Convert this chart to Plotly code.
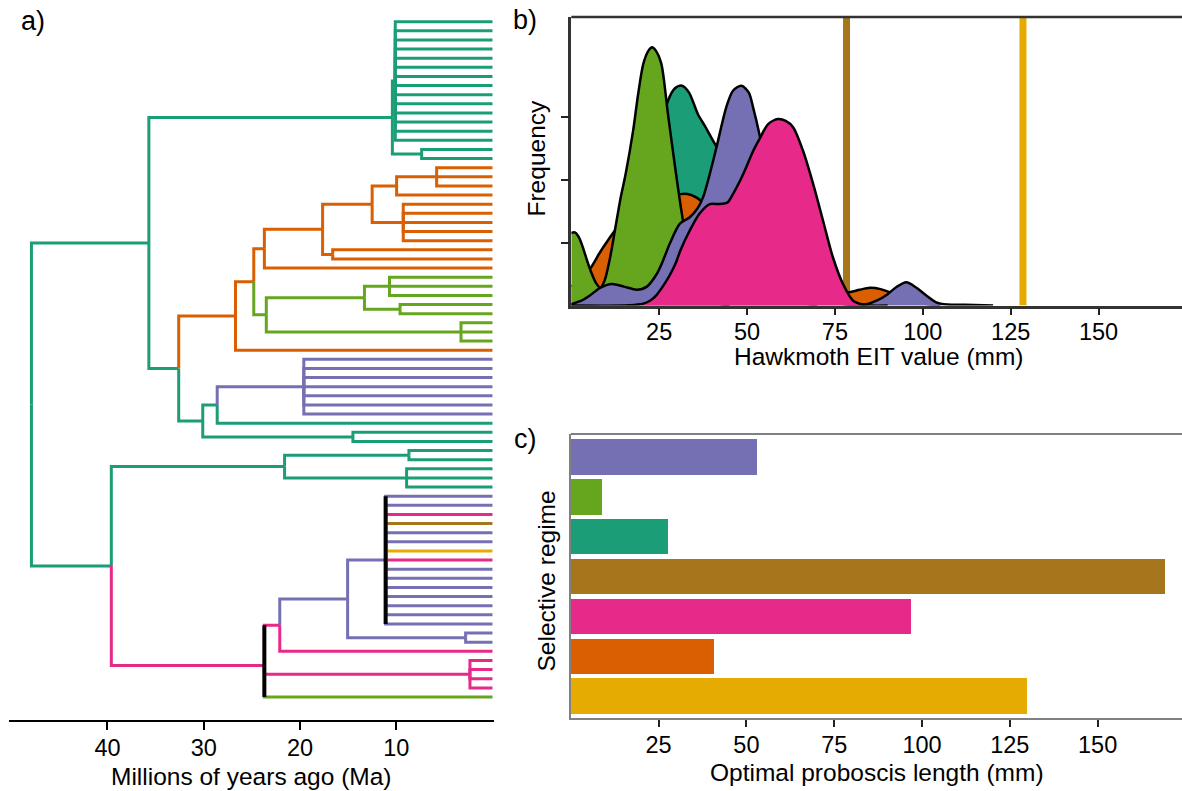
import plotly.graph_objects as go

W, H = 1182, 791
FONT = "Liberation Sans, Arial, sans-serif"

# Dark2 colours used for selective regimes
COL = {"T": "#1B9E77", "O": "#D95F02", "P": "#7570B3", "K": "#E7298A",
       "G": "#66A61E", "Y": "#E6AB02", "B": "#A6761D"}

# ---------------- panel a: phylogeny (node ages in Ma, edge regime colour) ----------------
def N(age, col, kids, black_vertical=False):
    return {"age": age, "col": col, "kids": kids, "bv": black_vertical}

TREE = N(47.9, "T", [
    N(35.7, "T", [
        N(10.4, "T", [N(10.1, "T", ["T"] * 14), N(7.36, "T", ["T", "T"])]),
        N(32.6, "T", [
            N(26.7, "O", [
                N(24.8, "O", [
                    N(23.7, "O", [
                        N(17.65, "O", [
                            N(12.5, "O", [
                                N(9.96, "O", [N(5.8, "O", ["O"] * 3), "O"]),
                                N(9.27, "O", ["O"] * 5)]),
                            N(16.6, "O", ["O", "O"])]),
                        "O"]),
                    N(23.5, "G", [
                        N(13.3, "G", [N(10.7, "G", ["G"] * 3), N(9.6, "G", ["G"] * 2)]),
                        N(3.27, "G", ["G"] * 3)])]),
                "O"]),
            N(30.1, "T", [
                N(28.6, "T", [N(19.6, "P", ["P"] * 7), "T"]),
                N(14.5, "T", ["T", "T"])])])]),
    N(39.6, "T", [
        N(21.6, "T", [N(8.68, "T", ["T"] * 2), N(8.92, "T", ["T"] * 3)]),
        N(23.7, "K", [
            N(22.1, "K", [
                N(15.05, "P", [
                    N(11.1, "P", ["P", "P", "K", "B", "P", "P", "Y", "K",
                                  "P", "P", "P", "P", "P", "P", "P"], True),
                    N(2.79, "P", ["P", "P"])]),
                "K"]),
            N(2.34, "K", ["K"] * 4),
            "G"], True)])])

AGE_TICKS = [40, 30, 20, 10]

# ---------------- panel b: densities of hawkmoth EIT values ----------------
teal_x = [0, 10, 15, 20, 24, 27.5, 29.5, 31.5, 33.5, 36, 38, 40, 42, 45, 48, 52, 56, 60, 65, 70]
teal_y = [0, 0.05, 0.3, 1.2, 2.4, 3.25, 3.45, 3.49, 3.38, 3.04, 2.85, 2.65, 2.45, 2.1, 1.6, 1.0, 0.5, 0.2, 0.05, 0]

orange_x = [0, 3, 5.3, 8, 10, 12.4, 15, 18, 22, 26, 30, 33, 36, 38, 41, 45, 50, 55, 60, 65,
            70, 75, 79, 82, 85, 88, 91, 95, 100, 105]
orange_y = [0.3, 0.45, 0.58, 0.83, 1.0, 1.19, 1.35, 1.45, 1.5, 1.6, 1.75, 1.77, 1.7, 1.6, 1.45,
            1.3, 1.0, 0.75, 0.55, 0.4, 0.3, 0.22, 0.21, 0.25, 0.28, 0.26, 0.2, 0.1, 0.03, 0]

green_x = [0, 1, 2, 3, 4, 5, 6, 7, 8.3, 9.5, 11, 12.4, 14, 15.5, 17.6, 19, 20.5, 22, 23, 24,
           25.6, 27.5, 29.4, 31.3, 33, 35, 37, 40, 45]
green_y = [1.15, 1.16, 1.1, 0.97, 0.8, 0.63, 0.48, 0.36, 0.28, 0.4, 0.75, 1.19, 1.7, 2.1, 2.78,
           3.35, 3.84, 4.05, 4.1, 4.05, 3.84, 3.04, 2.25, 1.51, 0.95, 0.5, 0.22, 0.06, 0]

purple_x = [0, 3, 5.3, 8.2, 11.5, 15, 18.6, 21.5, 24.3, 26, 28, 30.9, 33.7, 36, 37.5, 39.4, 41.3,
            44.1, 46, 48.4, 50.5, 51.7, 53.6, 56, 60, 65, 70, 75, 80, 84, 87, 90, 92.4, 95.3,
            98, 101, 103.8, 107, 112, 120]
purple_y = [0.02, 0.08, 0.16, 0.28, 0.34, 0.3, 0.25, 0.3, 0.5, 0.7, 0.98, 1.30, 1.40, 1.55, 1.72,
            2.09, 2.51, 3.15, 3.41, 3.49, 3.38, 3.15, 2.70, 2.0, 1.2, 0.6, 0.25, 0.06, 0.01, 0.02,
            0.08, 0.18, 0.29, 0.37, 0.29, 0.16, 0.05, 0.015, 0.01, 0]

pink_x = [0, 15, 18, 20.5, 22.5, 24.3, 26, 28, 29.9, 31, 33.7, 36.5, 39.4, 42.2, 44.5, 46, 48,
          49.8, 51.7, 53.6, 56, 58.8, 61, 63.1, 65.9, 68.8, 71.6, 74.4, 77.3, 80.1, 82.5, 85, 90]
pink_y = [0, 0, 0.01, 0.03, 0.08, 0.17, 0.3, 0.48, 0.7, 0.87, 1.19, 1.46, 1.61, 1.61, 1.64, 1.77,
          1.98, 2.2, 2.45, 2.65, 2.88, 2.96, 2.93, 2.83, 2.46, 1.93, 1.35, 0.77, 0.34, 0.08, 0.02, 0, 0]

brown_spike_x = 78.3
yellow_spike_x = 128.5
EIT_TICKS = [25, 50, 75, 100, 125, 150]
FREQ_TICKS = [1, 2, 3]

# ---------------- panel c: optimal proboscis length per regime ----------------
REGIMES = ["P", "G", "T", "B", "K", "O", "Y"]
OPTIMA = [53.0, 8.9, 27.7, 169.0, 96.8, 40.7, 129.8]
OPT_TICKS = [25, 50, 75, 100, 125, 150]

fig = go.Figure()

# ---- tree layout
segs = {c: ([], []) for c in COL}
blk = ([], [])
counter = [0]


def layout(node):
    if isinstance(node, str):
        y = counter[0]
        counter[0] += 1
        return y, 0.0
    res = [layout(k) for k in node["kids"]]
    y = sum(r[0] for r in res) / len(res)
    a = node["age"]
    for k, (cy, cage) in zip(node["kids"], res):
        c = k if isinstance(k, str) else k["col"]
        xs, ys = segs[c]
        xs += [a, a, cage, None]
        ys += [y, cy, cy, None]
    if node["bv"]:
        ymin = min(r[0] for r in res)
        ymax = max(r[0] for r in res)
        blk[0].extend([a, a, None])
        blk[1].extend([ymin, ymax, None])
    return y, a


layout(TREE)
for c, (xs, ys) in segs.items():
    if xs:
        fig.add_trace(go.Scatter(x=xs, y=ys, mode="lines", xaxis="x", yaxis="y",
                                 line=dict(color=COL[c], width=3), showlegend=False,
                                 hoverinfo="skip"))
fig.add_trace(go.Scatter(x=blk[0], y=blk[1], mode="lines", xaxis="x", yaxis="y",
                         line=dict(color="black", width=4), showlegend=False, hoverinfo="skip"))

# ---- densities
for sx, c in [(brown_spike_x, "B"), (yellow_spike_x, "Y")]:
    fig.add_trace(go.Scatter(x=[sx, sx], y=[0, 10], mode="lines", xaxis="x2", yaxis="y2",
                             line=dict(color=COL[c], width=7), showlegend=False, hoverinfo="skip"))
for xs, ys, c in [(teal_x, teal_y, "T"), (orange_x, orange_y, "O"), (green_x, green_y, "G"),
                  (purple_x, purple_y, "P"), (pink_x, pink_y, "K")]:
    fig.add_trace(go.Scatter(x=xs, y=ys, mode="lines", xaxis="x2", yaxis="y2", fill="tozeroy",
                             fillcolor=COL[c], line=dict(color="black", width=2.5, shape="spline",
                                                         smoothing=0.8),
                             showlegend=False, hoverinfo="skip"))

# ---- bars
fig.add_trace(go.Bar(x=OPTIMA, y=list(range(len(OPTIMA))), orientation="h", width=0.887,
                     marker=dict(color=[COL[r] for r in REGIMES], line=dict(width=0)),
                     xaxis="x3", yaxis="y3", showlegend=False, hoverinfo="skip"))

px = lambda v: v / W
py = lambda v: (H - v) / H

tickfont = dict(family=FONT, size=23.5, color="black")

fig.update_layout(
    width=W, height=H, margin=dict(l=0, r=0, t=0, b=0), autosize=False,
    paper_bgcolor="white", plot_bgcolor="white", bargap=0,
    font=dict(family=FONT, color="black"),
    xaxis=dict(domain=[px(9.3), px(494.3)], range=[50.2, -0.19], showgrid=False, zeroline=False,
               showline=True, linecolor="black", linewidth=1.5, ticks="outside", ticklen=8,
               tickwidth=2, tickcolor="black", tickvals=AGE_TICKS, tickfont=tickfont,
               ticklabelstandoff=-2),
    yaxis=dict(domain=[py(720), py(10)], range=[76.52, -1.279], visible=False),
    xaxis2=dict(domain=[px(571.3), 1], range=[0, 173.74], showgrid=False, zeroline=False,
                showline=True, linecolor="#333333", linewidth=2.5, ticks="outside", ticklen=7,
                tickwidth=2, tickcolor="#222222", tickvals=EIT_TICKS, tickfont=tickfont,
                ticklabelstandoff=-3, anchor="y2"),
    yaxis2=dict(domain=[py(305.5), py(17)], range=[0, 4.58], showgrid=False, zeroline=False,
                showline=True, linecolor="#333333", linewidth=2.5, ticks="outside", ticklen=8,
                tickwidth=2, tickcolor="#222222", tickvals=FREQ_TICKS, showticklabels=False,
                anchor="x2"),
    xaxis3=dict(domain=[px(570.8), 1], range=[0, 174.03], showgrid=False, zeroline=False,
                showline=True, linecolor="#808080", linewidth=2, ticks="outside", ticklen=7,
                tickwidth=2, tickcolor="#222222", tickvals=OPT_TICKS, tickfont=tickfont,
                ticklabelstandoff=-3, anchor="y3"),
    yaxis3=dict(domain=[py(718.3), py(434)], range=[6.56, -0.58], showgrid=False, zeroline=False,
                showline=True, linecolor="#808080", linewidth=2, showticklabels=False, ticks="",
                anchor="x3"),
)

fig.add_shape(type="line", xref="x2 domain", yref="y2 domain", x0=0, x1=1, y0=1, y1=1,
              line=dict(color="#333333", width=2.5))
fig.add_shape(type="line", xref="x3 domain", yref="y3 domain", x0=0, x1=1, y0=1, y1=1,
              line=dict(color="#808080", width=2))

ann = [
    ("Millions of years ago (Ma)", 251, 776.7, 0, "center", 24.5),
    ("Hawkmoth EIT value (mm)", 878.5, 356, 0, "center", 24.5),
    ("Optimal proboscis length (mm)", 877, 772, 0, "center", 24.5),
    ("Frequency", 536, 158.5, -90, "center", 24.5),
    ("Selective regime", 546, 581.5, -90, "center", 24.5),
    ("a)", 19, 21, 0, "left", 27),
    ("b)", 511, 20, 0, "left", 27),
    ("c)", 512, 439, 0, "left", 27),
]
for text, x, y, ang, xa, size in ann:
    fig.add_annotation(text=text, x=px(x), y=py(y), xref="paper", yref="paper", showarrow=False,
                       xanchor=xa, yanchor="middle", textangle=ang,
                       font=dict(family=FONT, size=size, color="black"))

fig.write_html("out.html")
